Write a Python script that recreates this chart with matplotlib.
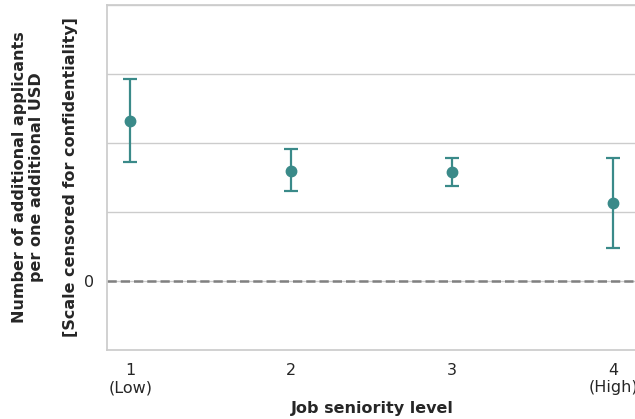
import matplotlib
matplotlib.use('Agg')
import matplotlib.pyplot as plt
import numpy as np
import seaborn as sns

sns.set_theme(style='whitegrid')
plt.rcParams['font.family'] = ['DejaVu Sans']

levels = [1, 2, 3, 4]
tick_labels = ['1\n(Low)', '2', '3', '4\n(High)']
estimate = [2.32, 1.60, 1.58, 1.13]
ci_low = [1.72, 1.31, 1.38, 0.48]
ci_high = [2.93, 1.91, 1.78, 1.78]

color = '#3a8a89'

est = np.array(estimate)
err = np.array([est - np.array(ci_low), np.array(ci_high) - est])

fig = plt.figure(figsize=(6.35, 4.19), dpi=100)
ax = fig.add_axes([0.1685, 0.165, 0.835, 0.823])

ax.axhline(0, color='gray', linestyle='--', linewidth=1.8, zorder=1)
ax.errorbar(levels, est, yerr=err, fmt='o', color=color, ecolor=color,
            markersize=7.5, elinewidth=1.6, capsize=5, capthick=1.6, zorder=3)

ax.set_xlim(0.855, 4.15)
ax.set_ylim(-1, 4)
ax.set_xticks(levels)
ax.set_xticklabels(tick_labels, fontsize=11.5)
ax.set_yticks([0, 1, 2, 3, 4])
ax.set_yticklabels(['0', '', '', '', ''], fontsize=11.5)
ax.xaxis.grid(False)
ax.spines['right'].set_visible(False)

ax.set_xlabel('Job seniority level', fontsize=11.5, fontweight='bold')
ax.set_ylabel('Number of additional applicants\nper one additional USD\n\n'
              '[Scale censored for confidentiality]',
              fontsize=11.5, fontweight='bold', linespacing=1.18)

fig.savefig('out.png', dpi=100)
